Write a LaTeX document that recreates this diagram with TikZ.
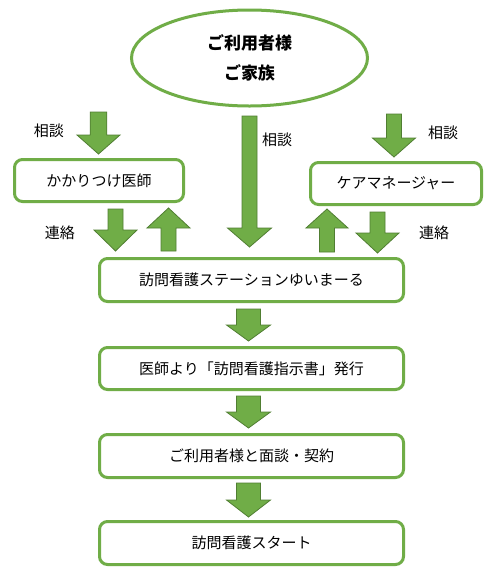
\documentclass[tikz,border=0pt]{standalone}
\usepackage{fontspec}
\setmainfont{Noto Sans CJK JP}
\usetikzlibrary{shapes.geometric}
\definecolor{grn}{HTML}{70AD47}
\definecolor{grnd}{HTML}{507E32}
\newcommand\dnarr[6]{\draw[blockarr] (#1-#5,#2) -- (#1+#5,#2) -- (#1+#5,#3) -- (#1+#6,#3) -- (#1,#4) -- (#1-#6,#3) -- (#1-#5,#3) -- cycle;}
\newcommand\uparr[6]{\draw[blockarr] (#1-#5,#2) -- (#1+#5,#2) -- (#1+#5,#3) -- (#1+#6,#3) -- (#1,#4) -- (#1-#6,#3) -- (#1-#5,#3) -- cycle;}
\begin{document}
\begin{tikzpicture}[x=1pt,y=-1pt,
  blockarr/.style={fill=grn,draw=grnd,line width=0.8pt,line join=miter},
  flowbox/.style={draw=grn,line width=3pt,rounded corners=8pt,fill=white,inner sep=0pt,
    font=\fontsize{15}{17}\selectfont},
  clientell/.style={ellipse,draw=grn,line width=3pt,fill=white,inner sep=0pt,
    minimum width=236pt,minimum height=96pt,align=center,
    font=\fontsize{17}{30}\selectfont\bfseries},
  lbl/.style={inner sep=0pt,font=\fontsize{15}{17}\selectfont}]
\useasboundingbox (0,0) rectangle (491,574);
\fill[white] (0,0) rectangle (491,574);
% nodes
\node[clientell] (client) at (249.5,58) {ご利用者様\\ご家族};
\node[flowbox,minimum width=169pt,minimum height=42pt] (doctor) at (99,180.5) {かかりつけ医師};
\node[flowbox,minimum width=171pt,minimum height=42pt] (care) at (396,183.5) {ケアマネージャー};
\node[flowbox,minimum width=304pt,minimum height=43pt] (station) at (251.5,280) {訪問看護ステーションゆいまーる};
\node[flowbox,minimum width=304pt,minimum height=42pt] (order) at (251.5,368.5) {医師より「訪問看護指示書」発行};
\node[flowbox,minimum width=304pt,minimum height=43pt] (contract) at (251.5,456) {ご利用者様と面談・契約};
\node[flowbox,minimum width=304pt,minimum height=43pt] (start) at (251.5,543) {訪問看護スタート};
% labels
\node[lbl] (l1) at (49,131) {相談};
\node[lbl] (l2) at (277,140) {相談};
\node[lbl] (l3) at (443,133) {相談};
\node[lbl] (l4) at (60,233) {連絡};
\node[lbl] (l5) at (434,233) {連絡};
% top arrows
\dnarr{98.5}{112}{135}{154}{8.3}{21.5}
\dnarr{249.5}{116}{228}{247}{7.5}{22}
\dnarr{394}{114}{138}{157}{7.5}{21.5}
% connecting arrows
\dnarr{115.5}{209}{230}{251}{7.5}{21.5}
\uparr{168.5}{251}{228}{208}{7.5}{21.5}
\uparr{327}{252}{228}{209}{7.5}{21}
\dnarr{377.5}{212}{233}{253}{7.5}{21.5}
% flow arrows
\dnarr{248.5}{309}{325}{341}{12}{22}
\dnarr{248.5}{396}{412}{428}{12}{22}
\dnarr{248.5}{483}{500}{517}{12}{22}
\end{tikzpicture}
\end{document}
